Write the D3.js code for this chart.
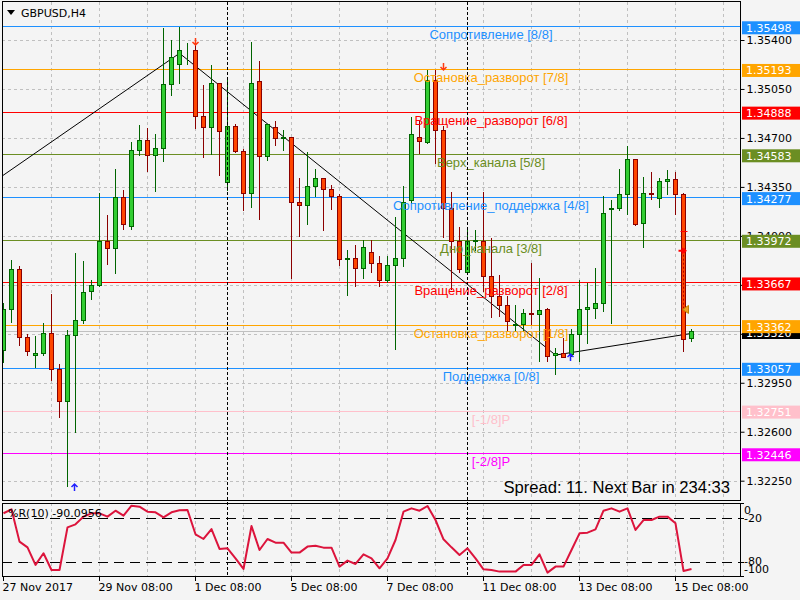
<!DOCTYPE html>
<html>
<head>
<meta charset="utf-8">
<script src="https://cdnjs.cloudflare.com/ajax/libs/d3/7.8.5/d3.min.js"></script>
<style>
  body { margin: 0; background: #f4f4f4; }
  svg { display: block; }
  text { font-family: "DejaVu Sans", sans-serif; font-size: 11px; }
</style>
</head>
<body>
<div id="chart"></div>
<script>
// H4 bars, index 0 = 27 Nov 2017 08:00
const opens = [1.33185,1.33479,1.33764,1.33280,1.33152,1.33166,1.33304,1.33045,1.32817,1.33294,
  1.33401,1.33608,1.33646,1.33966,1.33912,1.34277,1.34068,1.34612,1.34686,1.34577,
  1.34627,1.35083,1.35225,1.35325,1.35327,1.34855,1.34781,1.35090,1.34384,1.34783,
  1.34605,1.34306,1.35104,1.34570,1.34777,1.34698,1.34705,1.34242,1.34220,1.34356,
  1.34413,1.34334,1.34285,1.33836,1.33843,1.33767,1.33886,1.33807,1.33688,1.33793,
  1.33843,1.34256,1.34705,1.34674,1.35113,1.34755,1.34199,1.33966,1.33743,1.33962,
  1.33966,1.33712,1.33572,1.33508,1.33365,1.33373,1.33451,1.33441,1.33475,1.33149,
  1.33166,1.33156,1.33301,1.33479,1.33487,1.33522,1.34190,1.34197,1.34299,1.34548,
  1.34092,1.34308,1.34270,1.34389,1.34406,1.34301,1.33268];
const highs = [1.33522,1.33831,1.33788,1.33297,1.33285,1.33380,1.33582,1.33083,1.33327,1.33874,
  1.33817,1.33688,1.34308,1.34152,1.34479,1.34330,1.34672,1.34790,1.34772,1.34729,
  1.35484,1.35399,1.35493,1.35379,1.35410,1.35078,1.35220,1.35095,1.35125,1.34797,
  1.34619,1.35384,1.35249,1.34802,1.34821,1.34757,1.34710,1.34415,1.34600,1.34479,
  1.34415,1.34361,1.34301,1.33902,1.33938,1.33969,1.33969,1.33855,1.33855,1.34137,
  1.34353,1.34848,1.34819,1.35185,1.35185,1.34788,1.34313,1.34064,1.34040,1.34040,
  1.34313,1.33985,1.33722,1.33567,1.33506,1.33475,1.33807,1.33698,1.33487,1.33202,
  1.33268,1.33332,1.33684,1.33665,1.33772,1.34287,1.34258,1.34479,1.34639,1.34550,
  1.34420,1.34458,1.34415,1.34472,1.34458,1.34303,1.33337];
const lows = [1.33095,1.33384,1.33221,1.33149,1.33064,1.33149,1.32969,1.32708,1.32211,1.32601,
  1.33380,1.33551,1.33641,1.33798,1.33734,1.34052,1.34052,1.34579,1.34465,1.34318,
  1.34532,1.35009,1.35094,1.35225,1.34774,1.34563,1.34586,1.34432,1.34327,1.34600,
  1.34182,1.34204,1.34118,1.34541,1.34646,1.34617,1.33696,1.34002,1.34083,1.34282,
  1.34040,1.34190,1.33793,1.33577,1.33641,1.33700,1.33743,1.33641,1.33672,1.33194,
  1.33786,1.34237,1.34591,1.34667,1.34524,1.33992,1.33622,1.33743,1.33724,1.33902,
  1.33608,1.33420,1.33427,1.33320,1.33320,1.33320,1.33368,1.33107,1.33107,1.33016,
  1.33133,1.33142,1.33107,1.33237,1.33415,1.33463,1.33375,1.34182,1.34159,1.34076,
  1.33919,1.34266,1.34206,1.34301,1.34159,1.33178,1.33249];
const closes = [1.33479,1.33764,1.33280,1.33178,1.33166,1.33304,1.33045,1.32817,1.33294,1.33401,
  1.33601,1.33646,1.33966,1.33912,1.34277,1.34085,1.34612,1.34686,1.34577,1.34627,
  1.35083,1.35275,1.35327,1.35330,1.34855,1.34777,1.35090,1.34748,1.34783,1.34605,
  1.34306,1.35092,1.34570,1.34797,1.34696,1.34707,1.34242,1.34220,1.34358,1.34413,
  1.34334,1.34285,1.33836,1.33843,1.33767,1.33921,1.33807,1.33688,1.33793,1.33843,
  1.34239,1.34726,1.34679,1.35113,1.34755,1.34199,1.33966,1.33762,1.33966,1.33969,
  1.33712,1.33572,1.33508,1.33392,1.33373,1.33451,1.33441,1.33468,1.33142,1.33164,
  1.33137,1.33301,1.33479,1.33489,1.33522,1.34163,1.34197,1.34299,1.34548,1.34083,
  1.34306,1.34299,1.34391,1.34403,1.34299,1.33266,1.33320];

// Williams %R(10)
const wpr = [-14,-8.6,-52.7,-60.5,-84.5,-68.6,-91.4,-91.4,-33.2,-29.1,
  -18.6,-14.1,-14.1,-18.6,-10.5,-17.3,-3.6,-5.0,-11.8,-12.7,
  -19.5,-12.7,-10.0,-9.5,-42.7,-49.1,-35.5,-62.7,-61.8,-75.5,
  -90.0,-31.4,-64.1,-49.1,-54.1,-54.1,-67.7,-67.7,-59.5,-58.2,
  -60.9,-60.9,-86.8,-78.6,-83.2,-70.0,-75.5,-89.1,-75.5,-50.5,
  -11.8,-7.3,-10.5,-4.1,-23.2,-49.5,-60.5,-70.9,-61.8,-75.5,
  -90.5,-91.4,-93.6,-93.6,-93.6,-84.5,-84.5,-70.0,-95.0,-86.8,
  -86.8,-64.1,-41.4,-40.5,-35.9,-10.5,-7.3,-11.8,-7.3,-36.8,
  -23.2,-23.2,-18.6,-18.6,-27.7,-92.7,-90.1];

const murreyLevels = [1.35498,1.35193,1.34888,1.34583,1.34277,1.33972,1.33667,1.33362,1.33057,1.32751,1.32446];
const murreyNames = ["Сопротивление [8/8]","Остановка_разворот [7/8]","Вращение_разворот [6/8]","Верх_канала [5/8]",
  "Сопротивление_поддержка [4/8]","Дно_канала [3/8]","Вращение_разворот [2/8]","Остановка_разворот [1/8]",
  "Поддержка [0/8]","[-1/8]P","[-2/8]P"];
const murreyColors = ["#1e90ff","#ffa500","#ff0000","#6b8e23","#1e90ff","#6b8e23","#ff0000","#ffa500","#1e90ff","#ffc0cb","#ff00ff"];

const priceTicks = [1.354,1.3505,1.347,1.3435,1.34,1.3365,1.333,1.3295,1.326,1.3225];
const wprTicks = [0,-20,-80,-100];
const wprLevels = [-20,-80];
const timeLabels = ["27 Nov 2017","29 Nov 08:00","1 Dec 08:00","5 Dec 08:00","7 Dec 08:00","11 Dec 08:00","13 Dec 08:00","15 Dec 08:00"];
const timeLabelBars = [0,12,24,36,48,60,72,84];
const weekStartBars = [28,58];

const zigzagBars = [-1,22,69,86];
const zigzagPrices = [1.34395,1.35305,1.33148,1.33303];
const sellArrowBars = [24,55];
const sellArrowPrices = [1.35386,1.35207];
const buyArrowBars = [9,71];
const buyArrowPrices = [1.32205,1.33134];
const bidPrice = 1.33320;

function createChart() {
    const left = 2, right = 740, mainTop = 2, mainBottom = 500, subTop = 503, subBottom = 577;

    const svg = d3.select("#chart").append("svg")
        .attr("width", 800).attr("height", 600)
        .style("background", "#f4f4f4");

    const x = d3.scaleLinear().domain([0, 92]).range([3.5, 739.5]);
    const y = d3.scaleLinear().domain([1.3225, 1.354]).range([480.7, 40]);
    const yW = d3.scaleLinear().domain([-100, 0]).range([576.3, 503]);
    const px = v => Math.round(v) + 0.5;

    const defs = svg.append("defs");
    defs.append("clipPath").attr("id", "clipMain").append("rect")
        .attr("x", left + 1).attr("y", mainTop + 1).attr("width", right - left - 1).attr("height", mainBottom - mainTop - 1);
    defs.append("clipPath").attr("id", "clipSub").append("rect")
        .attr("x", left + 1).attr("y", subTop + 1).attr("width", right - left - 1).attr("height", subBottom - subTop - 1);

    // grid
    const grid = svg.append("g").attr("stroke", "#c0c0c0").attr("stroke-dasharray", "3,3");
    const gridBars = d3.range(6, 92, 6);
    [[mainTop, mainBottom], [subTop, subBottom]].forEach(([t, b]) => {
        grid.selectAll(null).data(gridBars).enter().append("line")
            .attr("x1", d => x(d)).attr("x2", d => x(d)).attr("y1", t).attr("y2", b);
    });
    grid.selectAll(null).data(priceTicks).enter().append("line")
        .attr("x1", left).attr("x2", right).attr("y1", d => px(y(d))).attr("y2", d => px(y(d)));

    const main = svg.append("g").attr("clip-path", "url(#clipMain)");

    // murrey lines
    main.selectAll(".mm").data(murreyLevels).enter().append("line")
        .attr("x1", left).attr("x2", right)
        .attr("y1", d => px(y(d))).attr("y2", d => px(y(d)))
        .attr("stroke", (d, i) => murreyColors[i]);

    // bid line
    main.append("line").attr("x1", left).attr("x2", right)
        .attr("y1", px(y(bidPrice))).attr("y2", px(y(bidPrice))).attr("stroke", "#c0c0c0");

    // week separators
    svg.append("g").selectAll("line").data(weekStartBars).enter().append("line")
        .attr("x1", d => x(d)).attr("x2", d => x(d)).attr("y1", mainTop).attr("y2", subBottom)
        .attr("stroke", "#000").attr("stroke-dasharray", "3,2");

    // zigzag
    main.append("path")
        .datum(zigzagBars.map((b, i) => [b, zigzagPrices[i]]))
        .attr("fill", "none").attr("stroke", "#000").attr("stroke-width", 1)
        .attr("d", d3.line().x(d => x(d[0])).y(d => y(d[1])));

    // candles
    const candles = opens.map((o, i) => ({ i, o, h: highs[i], l: lows[i], c: closes[i], up: closes[i] >= o }));
    const cg = main.append("g");
    cg.selectAll(".wick").data(candles).enter().append("line")
        .attr("x1", d => x(d.i)).attr("x2", d => x(d.i))
        .attr("y1", d => Math.round(y(d.h))).attr("y2", d => Math.round(y(d.l)) + 1)
        .attr("stroke", d => d.up ? "#006400" : "#8b0000");
    cg.selectAll(".body").data(candles).enter().append("rect")
        .attr("x", d => x(d.i) - 2)
        .attr("width", 4)
        .attr("y", d => px(y(Math.max(d.o, d.c))))
        .attr("height", d => Math.max(0, Math.round(y(Math.min(d.o, d.c))) - Math.round(y(Math.max(d.o, d.c)))))
        .attr("fill", d => d.up ? "#32cd32" : "#ff4500")
        .attr("stroke", d => d.up ? "#006400" : "#8b0000");

    // signal arrows
    main.selectAll(".sell").data(sellArrowBars).enter().append("path")
        .attr("transform", (d, i) => `translate(${x(d)},${y(sellArrowPrices[i])})`)
        .attr("d", "M0,-4L0,3M-3,0L0,3L3,0")
        .attr("fill", "none").attr("stroke", "#ff3a10").attr("stroke-width", 1.5);
    main.selectAll(".buy").data(buyArrowBars).enter().append("path")
        .attr("transform", (d, i) => `translate(${x(d) - 1},${y(buyArrowPrices[i])})`)
        .attr("d", "M0,4L0,-3M-3,0L0,-3L3,0")
        .attr("fill", "none").attr("stroke", "#2020ff").attr("stroke-width", 1.5);

    // trade marks on last big bar
    const tx = x(85);
    main.append("line").attr("x1", tx).attr("x2", tx).attr("y1", y(1.33894)).attr("y2", y(1.33474))
        .attr("stroke", "#b00000").attr("stroke-dasharray", "2,2");
    main.append("line").attr("x1", tx - 3).attr("x2", tx + 4).attr("y1", px(y(1.34033))).attr("y2", px(y(1.34033)))
        .attr("stroke", "#ff0000");
    main.append("path").attr("transform", `translate(${tx - 1},${y(1.33894)})`)
        .attr("d", "M-4,0L3,0M0,-3L0,3M1,-2L3,0L1,2")
        .attr("fill", "none").attr("stroke", "#ff0000").attr("stroke-width", 2);
    main.append("path").attr("transform", `translate(${tx + 1},${y(1.33474)})`)
        .attr("d", "M4,-4L-2,0L4,4Z")
        .attr("fill", "#f0a020").attr("stroke", "#c08000");

    // murrey labels
    main.selectAll(".mmtext").data(murreyLevels).enter().append("text")
        .attr("x", 491).attr("y", d => y(d) + 13)
        .attr("text-anchor", "middle")
        .style("font-family", "'Liberation Sans', Arial, sans-serif")
        .style("font-size", "13px")
        .attr("fill", (d, i) => murreyColors[i])
        .text((d, i) => murreyNames[i]);

    // spread text
    svg.append("text").attr("x", 730).attr("y", 493).attr("text-anchor", "end")
        .style("font-family", "'Liberation Sans', Arial, sans-serif").style("font-size", "16.6px")
        .attr("fill", "#000").text("Spread: 11. Next Bar in 234:33");

    // title
    svg.append("path").attr("d", "M7,10L15,10L11,15Z").attr("fill", "#000");
    svg.append("text").attr("x", 21).attr("y", 17).attr("fill", "#000").text("GBPUSD,H4");

    // WPR panel
    const sub = svg.append("g").attr("clip-path", "url(#clipSub)");
    sub.selectAll(".lvl").data(wprLevels).enter().append("line")
        .attr("x1", left).attr("x2", right).attr("y1", d => px(yW(d))).attr("y2", d => px(yW(d)))
        .attr("stroke", "#000").attr("stroke-dasharray", "10,6");
    sub.append("path").datum(wpr)
        .attr("fill", "none").attr("stroke", "#dc143c").attr("stroke-width", 2)
        .attr("stroke-linejoin", "round")
        .attr("d", d3.line().x((d, i) => x(i)).y(d => yW(d)));
    svg.append("text").attr("x", 8).attr("y", 517).attr("fill", "#000").text("%R(10) -90.0956");

    // frames
    svg.append("rect").attr("x", left + 0.5).attr("y", mainTop - 0.5).attr("width", right - left).attr("height", mainBottom - mainTop + 1)
        .attr("fill", "none").attr("stroke", "#000");
    svg.append("rect").attr("x", left + 0.5).attr("y", subTop + 0.5).attr("width", right - left).attr("height", subBottom - subTop - 1)
        .attr("fill", "none").attr("stroke", "#000");

    // price axis
    const yAxis = svg.append("g").attr("transform", `translate(${right + 0.5},0)`)
        .call(d3.axisRight(y).tickValues(priceTicks).tickFormat(d3.format(".5f")).tickSize(4).tickPadding(2).tickSizeOuter(0));
    yAxis.select(".domain").remove();
    yAxis.selectAll("text").style("font-family", "'DejaVu Sans', sans-serif").style("font-size", "11px");

    // bid label then murrey labels
    const bidY = y(bidPrice);
    svg.append("rect").attr("x", right + 2).attr("y", bidY - 5).attr("width", 58).attr("height", 13).attr("fill", "#000");
    svg.append("text").attr("x", right + 6).attr("y", bidY + 5.5).attr("fill", "#fff").text(d3.format(".5f")(bidPrice));

    const tags = svg.append("g").selectAll("g").data(murreyLevels).enter().append("g")
        .attr("transform", d => `translate(${right + 2},${y(d)})`);
    tags.append("rect").attr("x", 0).attr("y", -5).attr("width", 58).attr("height", 13)
        .attr("fill", (d, i) => murreyColors[i]);
    tags.append("text").attr("x", 4).attr("y", 5.5).attr("fill", "#fff").text(d => d3.format(".5f")(d));

    // WPR axis
    const wg = svg.append("g");
    wg.selectAll("line").data(wprTicks).enter().append("line")
        .attr("x1", right).attr("x2", right + 4).attr("y1", d => px(yW(d))).attr("y2", d => px(yW(d)))
        .attr("stroke", "#000");
    wg.selectAll("text").data(wprTicks).enter().append("text")
        .attr("x", right + 4)
        .attr("y", d => Math.min(569, Math.max(510, yW(d))))
        .attr("dy", "0.35em").attr("fill", "#000")
        .text(d => d);

    // time axis
    const tg = svg.append("g");
    tg.selectAll("line").data(timeLabelBars).enter().append("line")
        .attr("x1", d => x(d)).attr("x2", d => x(d)).attr("y1", subBottom).attr("y2", subBottom + 4)
        .attr("stroke", "#000");
    tg.selectAll("text").data(timeLabelBars).enter().append("text")
        .attr("x", d => x(d) - 1).attr("y", 591).attr("fill", "#000")
        .text((d, i) => timeLabels[i]);
}

createChart();
</script>
</body>
</html>
